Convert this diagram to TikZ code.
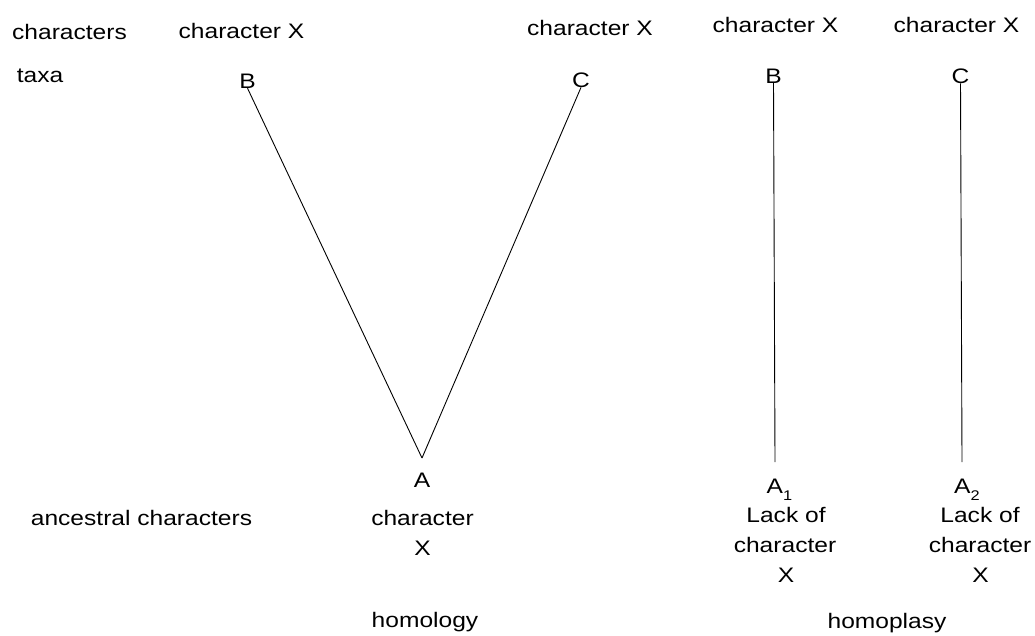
\documentclass[tikz,border=0pt]{standalone}
\usepackage{fontspec}
\setmainfont{Liberation Sans}[FakeStretch=1.17]
\newcommand{\subidx}[1]{\raisebox{-7pt}{\fontsize{14}{14}\selectfont #1}}
\begin{document}
\begin{tikzpicture}[x=1pt,y=-1pt,
  lbl/.style={inner sep=0pt, anchor=base, font=\fontsize{21}{30}\selectfont},
  lblw/.style={lbl, anchor=base west},
  branch/.style={line width=0.9pt, black}]
\useasboundingbox (0,0) rectangle (1035,635);

% header row
\node[lbl] (chars) at (69.5,39) {characters};
\node[lbl] (cx1) at (241.5,38) {character X};
\node[lbl] (cx2) at (590,35) {character X};
\node[lbl] (cx3) at (775.5,32) {character X};
\node[lbl] (cx4) at (956.5,32) {character X};

% taxa
\node[lbl] (taxa) at (40,82) {taxa};
\node[lbl] (B1) at (247.5,88) {B};
\node[lbl] (C1) at (581,87) {C};
\node[lbl] (B2) at (773.5,83) {B};
\node[lbl] (C2) at (960.5,83) {C};

% branch ends
\coordinate (apex) at (422,458);
\coordinate (a1top) at (775,462);
\coordinate (a2top) at (962,462);

% ancestors
\node[lbl] (A) at (422,487) {A};
\node[lblw] (A1) at (766.5,493) {A\subidx{1}};
\node[lblw] (A2) at (954,493) {A\subidx{2}};

\node[lbl] (anc) at (141.5,525) {ancestral characters};
\node[lbl] (Achar) at (422.5,525) {character};
\node[lbl] (AX) at (422.5,555) {X};

\node[lbl] (L1a) at (786,522) {Lack of};
\node[lbl] (L1b) at (785,552) {character};
\node[lbl] (L1c) at (786,582) {X};
\node[lbl] (L2a) at (980,522) {Lack of};
\node[lbl] (L2b) at (980,552) {character};
\node[lbl] (L2c) at (980.5,582) {X};

% captions
\node[lbl] (homology) at (425,627) {homology};
\node[lbl] (homoplasy) at (887,628) {homoplasy};

% branches
\draw[branch] (B1.south) -- (apex);
\draw[branch] (C1.south) -- (apex);
\draw[branch] (B2.south) -- (a1top);
\draw[branch] (C2.south) -- (a2top);
\end{tikzpicture}
\end{document}
